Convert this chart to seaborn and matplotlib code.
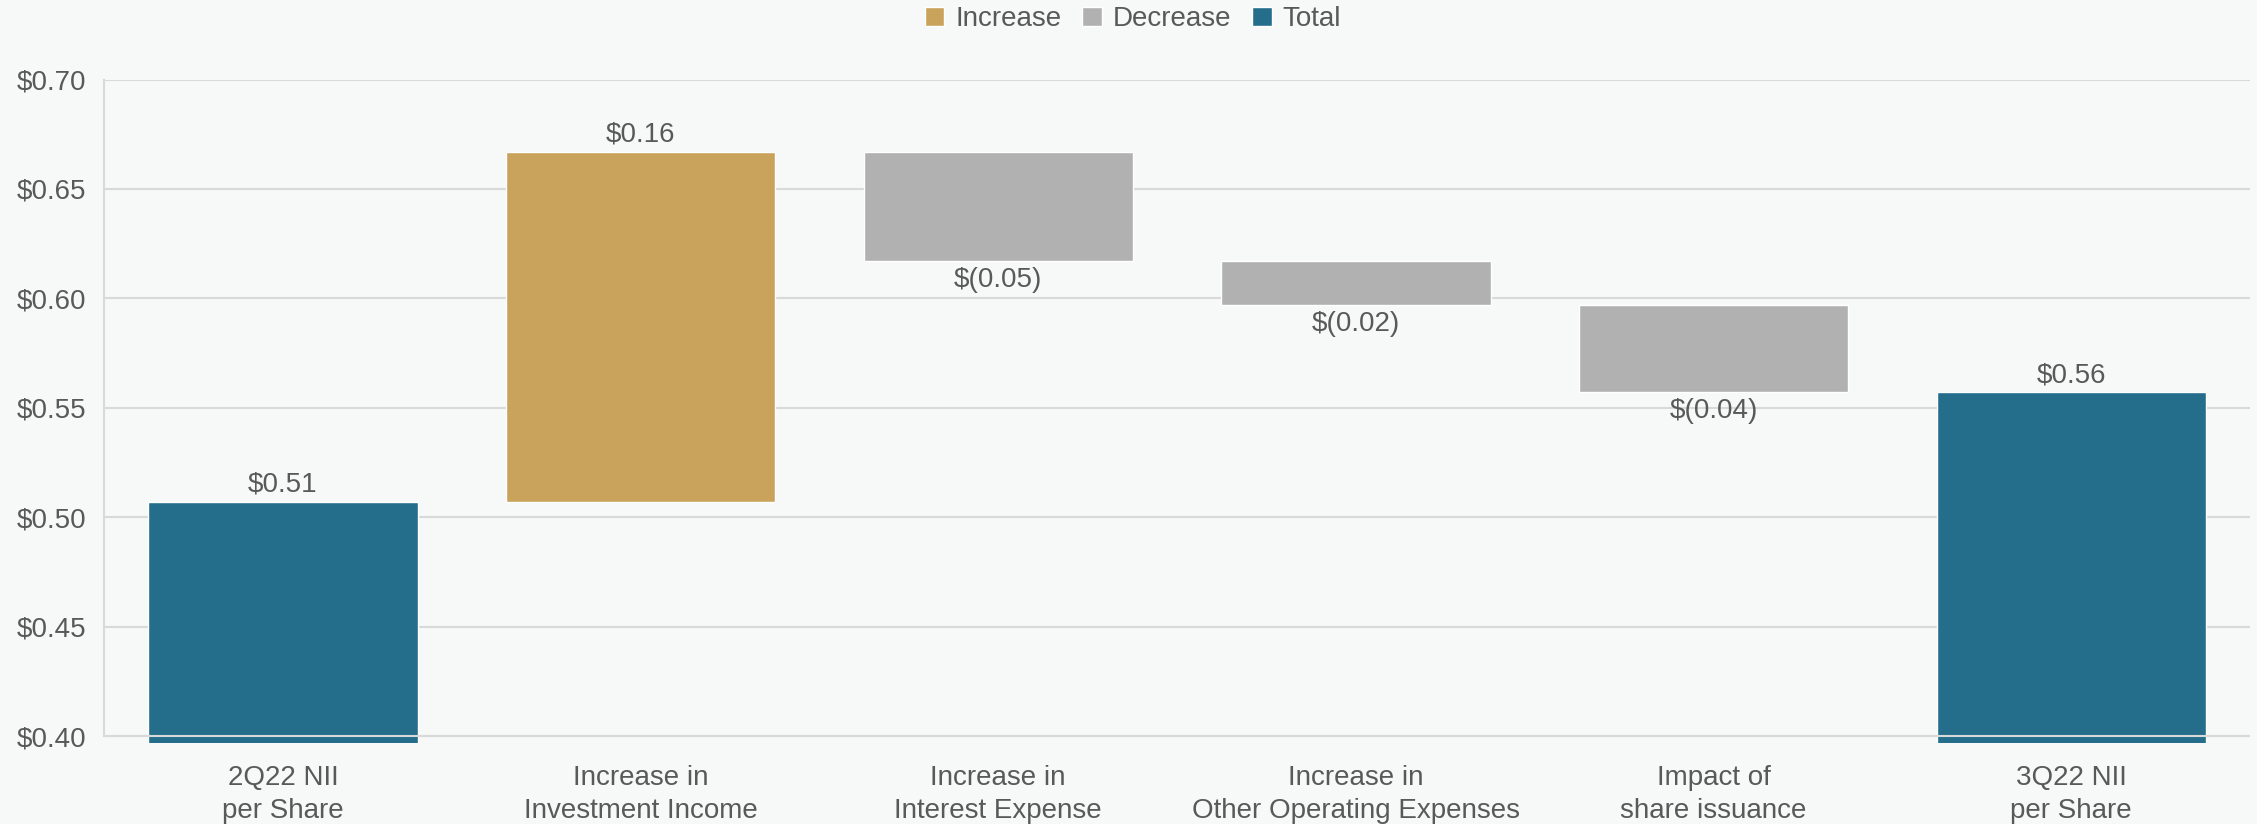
import numpy as np
import pandas as pd
import seaborn as sns
import matplotlib.pyplot as plt
from matplotlib.patches import Patch
from matplotlib.ticker import FuncFormatter

# waterfall data (NII per share bridge)
categories = ["2Q22 NII\nper Share", "Increase in\nInvestment Income", "Increase in\nInterest Expense",
              "Increase in\nOther Operating Expenses", "Impact of\nshare issuance", "3Q22 NII\nper Share"]
kinds = ["Total", "Increase", "Decrease", "Decrease", "Decrease", "Total"]
start_value = 0.507
changes = [0.160, -0.050, -0.020, -0.040]
value_labels = ["$0.51", "$0.16", "$(0.05)", "$(0.02)", "$(0.04)", "$0.56"]
palette = {"Increase": "#C9A35B", "Decrease": "#B1B1B2", "Total": "#246E8C"}
text_color = "#595959"
grid_color = "#D9D9D9"
bg = "#F7F8F8"

# build low/high of each bar
running = np.concatenate([[start_value], start_value + np.cumsum(changes)])
lows, highs = [0.0], [start_value]
for i, c in enumerate(changes):
    lows.append(min(running[i], running[i + 1]))
    highs.append(max(running[i], running[i + 1]))
lows.append(0.0)
highs.append(running[-1])
df = pd.DataFrame({"step": categories, "kind": kinds, "low": lows, "high": highs})
df["span"] = df["high"] - df["low"]

sns.set_style("white")
plt.rcParams['font.family'] = ['Liberation Sans', 'DejaVu Sans']

fig = plt.figure(figsize=(22.57, 8.24), dpi=100, facecolor=bg)
ax = fig.add_axes([0.0461, 0.0987, 0.9508, 0.8048])
ax.set_facecolor(bg)

for i, row in df.iterrows():
    sns.barplot(x=[row["step"]], y=[row["span"]], bottom=row["low"], order=categories,
                color=palette[row["kind"]], saturation=1, width=0.753, errorbar=None,
                ax=ax, zorder=2)
    if row["kind"] == "Decrease":
        ax.annotate(value_labels[i], (i, row["low"]), xytext=(0, -4), textcoords="offset points",
                    ha="center", va="top", fontsize=20, color=text_color)
    else:
        ax.annotate(value_labels[i], (i, row["high"]), xytext=(0, 3), textcoords="offset points",
                    ha="center", va="bottom", fontsize=20, color=text_color)

ax.set_xlim(-0.5, 5.5)
ax.set_ylim(0.397, 0.70)
ax.set_yticks(np.arange(0.40, 0.701, 0.05))
ax.yaxis.set_major_formatter(FuncFormatter(lambda v, p: f"${v:.2f}"))
ax.set_xlabel("")
ax.set_ylabel("")
ax.tick_params(axis="x", length=0, pad=16, labelsize=20, labelcolor=text_color)
ax.tick_params(axis="y", length=0, pad=13, labelsize=20, labelcolor=text_color)
for lbl in ax.get_xticklabels():
    lbl.set_linespacing(1.35)

ax.yaxis.grid(True, color=grid_color, lw=1.5)
ax.set_axisbelow(True)
ax.axhline(0.40, color=grid_color, lw=1.5, zorder=5)
for s in ["top", "right", "bottom"]:
    ax.spines[s].set_visible(False)
ax.spines["left"].set_color(grid_color)
ax.spines["left"].set_linewidth(1.5)
ax.spines["left"].set_bounds(0.40, 0.70)

handles = [Patch(facecolor=palette[k]) for k in ["Increase", "Decrease", "Total"]]
fig.legend(handles, ["Increase", "Decrease", "Total"], loc="center", bbox_to_anchor=(0.502, 0.977),
           ncol=3, frameon=False, fontsize=20, handlelength=0.7, handleheight=0.7,
           handletextpad=0.4, columnspacing=0.75, labelcolor=text_color)

fig.savefig("out.png", dpi=100, facecolor=fig.get_facecolor())
